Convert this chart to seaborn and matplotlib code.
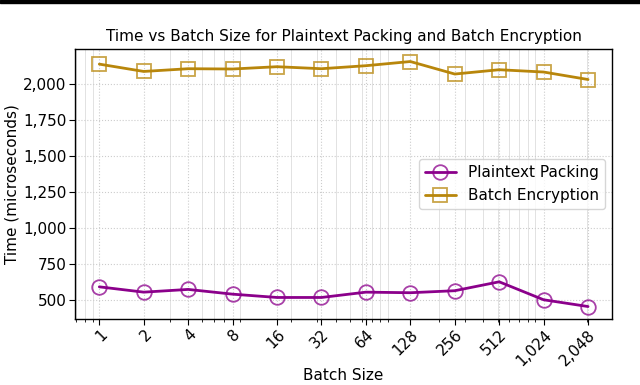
import numpy as np
import pandas as pd
import matplotlib
matplotlib.use("Agg")
import matplotlib.pyplot as plt
import matplotlib.ticker as mticker
import seaborn as sns

# ---------------------------------------------------------------------------
# datos
# ---------------------------------------------------------------------------
batch_sizes = [1, 2, 4, 8, 16, 32, 64, 128, 256, 512, 1024, 2048]
plaintext_packing = [590, 553, 572, 539, 516, 516, 553, 549, 563, 625, 500, 453]
batch_encryption = [2139, 2088, 2107, 2105, 2121, 2107, 2128, 2157, 2070, 2100, 2084, 2032]

series_names = ["Plaintext Packing", "Batch Encryption"]
series_colors = ["#8B008B", "#B8860B"]
series_markers = ["o", "s"]

df = pd.DataFrame({
    "Batch Size": batch_sizes * 2,
    "Time": plaintext_packing + batch_encryption,
    "Serie": [series_names[0]] * len(batch_sizes) + [series_names[1]] * len(batch_sizes),
})

sns.set_style("white")
plt.rcParams["font.family"] = ["DejaVu Sans"]
plt.rcParams["text.color"] = "black"
plt.rcParams["axes.labelcolor"] = "black"
plt.rcParams["xtick.color"] = "black"
plt.rcParams["ytick.color"] = "black"

fig, ax = plt.subplots(figsize=(6.4, 3.85), dpi=100)

for name, color, marker in zip(series_names, series_colors, series_markers):
    sub = df[df["Serie"] == name]
    sns.lineplot(data=sub, x="Batch Size", y="Time", ax=ax, color=color,
                 marker=marker, markersize=10.5, markerfacecolor="none",
                 markeredgecolor=matplotlib.colors.to_rgba(color, 0.75),
                 markeredgewidth=1.3, linewidth=2, label=name)

ax.set_xscale("log")
ax.set_xticks(batch_sizes)
ax.xaxis.set_major_formatter(mticker.FuncFormatter(lambda v, p: f"{int(v):,}"))
ax.yaxis.set_major_formatter(mticker.FuncFormatter(lambda v, p: f"{int(v):,}"))
ax.set_yticks([500, 750, 1000, 1250, 1500, 1750, 2000])
ax.margins(x=0.05, y=0.05)

ax.tick_params(axis="x", which="major", labelsize=11, rotation=45, length=4,
               bottom=True, pad=2)
ax.tick_params(axis="x", which="minor", length=2, bottom=True)
ax.tick_params(axis="y", labelsize=11, length=4, left=True, pad=2)
for lbl in ax.get_xticklabels():
    lbl.set_rotation_mode("anchor")
    lbl.set_ha("right")

ax.grid(True, which="major", color="#cccccc", linestyle=":", linewidth=0.8)
ax.grid(True, which="minor", axis="x", color="#dddddd", linestyle="-", linewidth=0.6)
for s in ax.spines.values():
    s.set_color("black")
    s.set_linewidth(1)

ax.set_title("Time vs Batch Size for Plaintext Packing and Batch Encryption",
             fontsize=11, color="black")
ax.set_xlabel("Batch Size", fontsize=11, labelpad=0)
ax.set_ylabel("Time (microseconds)", fontsize=11, labelpad=3)
ax.legend(loc="center right", fontsize=11, frameon=True)

fig.subplots_adjust(left=0.117, right=0.957, top=0.872, bottom=0.172)
fig.add_artist(plt.Rectangle((0, 0.992), 1, 0.008, transform=fig.transFigure,
                             color="black", zorder=10))
plt.savefig("out.png", dpi=100)
